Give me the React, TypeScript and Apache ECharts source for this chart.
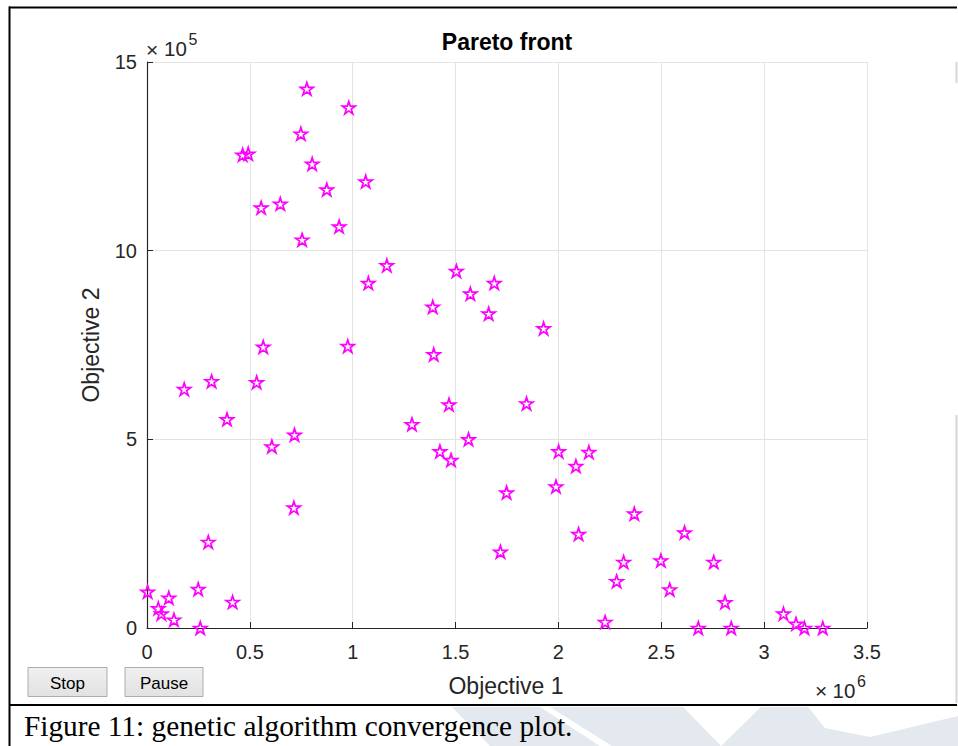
import React, { useEffect, useRef } from "react";
import * as echarts from "echarts";

// Objective 1 values (×10^6)
const objective1 = [
  0.777, 0.981, 0.748, 0.465, 0.492, 0.803, 1.063, 0.874, 0.648, 0.555,
  0.934, 0.754, 1.166, 1.076, 1.504, 1.572, 1.389, 1.688, 1.661, 1.928,
  0.565, 0.976, 1.394, 0.181, 0.314, 0.533, 0.389, 1.468, 1.288, 0.607,
  0.717, 1.563, 1.424, 1.478, 0.714, 0.298, 0.003, 0.106, 0.249, 0.416,
  0.055, 0.07, 0.131, 0.259, 1.845, 1.748, 1.718, 2.001, 2.148, 2.085,
  1.988, 2.369, 2.098, 2.613, 2.317, 2.498, 2.755, 2.283, 2.541, 2.81,
  2.227, 2.68, 2.84, 3.094, 3.155, 3.196, 3.285,
];
// Objective 2 values (×10^5)
const objective2 = [
  14.29, 13.79, 13.1, 12.54, 12.57, 12.3, 11.83, 11.62, 11.24, 11.14,
  10.64, 10.29, 9.61, 9.14, 9.46, 8.86, 8.51, 9.14, 8.33, 7.94,
  7.45, 7.47, 7.25, 6.33, 6.54, 6.51, 5.53, 5.92, 5.4, 4.81,
  5.12, 5.0, 4.68, 4.45, 3.19, 2.28, 0.96, 0.8, 1.03, 0.69,
  0.52, 0.38, 0.22, 0.0, 5.95, 3.59, 2.02, 4.68, 4.66, 4.29,
  3.75, 3.03, 2.49, 2.53, 1.75, 1.79, 1.75, 1.24, 1.02, 0.68,
  0.16, 0.0, 0.0, 0.38, 0.11, 0.0, 0.0,
];

const xRange = { min: 0, max: 3.5, interval: 0.5 };
const yRange = { min: 0, max: 15, interval: 5 };

const titleText = "Pareto front";
const xName = "Objective 1";
const yName = "Objective 2";
const caption = "Figure 11: genetic algorithm convergence plot.";

const STAR =
  "path://M0,-10 L2.245,-3.09 L9.511,-3.09 L3.633,1.18 L5.878,8.09 L0,3.82 L-5.878,8.09 L-3.633,1.18 L-9.511,-3.09 L-2.245,-3.09 Z";

const SANS = "Liberation Sans, Arial, Helvetica, sans-serif";
const SERIF = "Liberation Serif, Times New Roman, serif";
const AX = "#262626";

export default function App() {
  const ref = useRef<HTMLDivElement>(null);
  useEffect(() => {
    if (!ref.current) return;
    const chart = echarts.init(ref.current, undefined, { renderer: "svg" });
    const points = objective1.map((x, i) => [x, objective2[i]]);
    const button = (x: number, w: number, label: string) => ({
      type: "group",
      children: [
        {
          type: "rect",
          shape: { x, y: 667.5, width: w, height: 29 },
          style: {
            fill: new echarts.graphic.LinearGradient(0, 0, 0, 1, [
              { offset: 0, color: "#f0f0f0" },
              { offset: 1, color: "#e2e2e2" },
            ]),
            stroke: "#adadad",
            lineWidth: 1,
          },
        },
        {
          type: "text",
          x: x + w / 2,
          y: 683,
          style: {
            text: label,
            fontFamily: SANS,
            fontSize: 17,
            fill: "#000",
            align: "center",
            verticalAlign: "middle",
          },
        },
      ],
    });
    const txt = (x: number, y: number, s: string, size: number) => ({
      type: "text",
      x,
      y,
      style: { text: s, fontFamily: SANS, fontSize: size, fill: AX, align: "left", verticalAlign: "middle" },
    });
    chart.setOption({
      animation: false,
      backgroundColor: "#fff",
      grid: { left: 147, right: 91, top: 62, bottom: 118, containLabel: false },
      xAxis: {
        type: "value",
        ...xRange,
        axisLine: { show: true, onZero: false, lineStyle: { color: AX, width: 1.2 } },
        axisTick: { show: true, inside: true, length: 6, lineStyle: { color: AX } },
        axisLabel: { fontSize: 20, color: AX, margin: 14, fontFamily: SANS },
        splitLine: { show: true, lineStyle: { color: "#e3e3e3", width: 1 } },
      },
      yAxis: {
        type: "value",
        ...yRange,
        axisLine: { show: true, onZero: false, lineStyle: { color: AX, width: 1.2 } },
        axisTick: { show: true, inside: true, length: 6, lineStyle: { color: AX } },
        axisLabel: { fontSize: 20, color: AX, margin: 10, fontFamily: SANS },
        splitLine: { show: true, lineStyle: { color: "#e3e3e3", width: 1 } },
      },
      series: [
        {
          type: "scatter",
          data: points,
          symbol: STAR,
          symbolSize: [13, 12.5],
          clip: false,
          itemStyle: { color: "rgba(0,0,0,0)", borderColor: "#ff00ff", borderWidth: 1.7, opacity: 1 },
          z: 5,
        },
      ],
      graphic: [
        // watermark shapes in caption strip
        {
          type: "polygon",
          z: 0,
          shape: { points: [[452, 707], [540, 707], [600, 746], [490, 746]] },
          style: { fill: "#e3e9ee" },
        },
        {
          type: "polygon",
          z: 0,
          shape: { points: [[550, 707], [683, 707], [721, 746], [612, 746]] },
          style: { fill: "#e3e9ee" },
        },
        {
          type: "polygon",
          z: 0,
          shape: {
            points: [[761, 707], [808, 707], [825, 728], [870, 737], [958, 716], [958, 746], [721, 746]],
          },
          style: { fill: "#e3e9ee" },
        },
        // frame lines
        { type: "line", z: 10, shape: { x1: 9, y1: 7.5, x2: 957, y2: 7.5 }, style: { stroke: "#000", lineWidth: 2 } },
        { type: "line", z: 10, shape: { x1: 9.5, y1: 6.5, x2: 9.5, y2: 746 }, style: { stroke: "#000", lineWidth: 2 } },
        { type: "line", z: 10, shape: { x1: 9, y1: 705, x2: 957, y2: 705 }, style: { stroke: "#000", lineWidth: 2 } },
        // right gray bars
        { type: "line", z: 10, shape: { x1: 956.5, y1: 62, x2: 956.5, y2: 83 }, style: { stroke: "#d6d6d6", lineWidth: 2 } },
        { type: "line", z: 10, shape: { x1: 956.5, y1: 415, x2: 956.5, y2: 703 }, style: { stroke: "#d6d6d6", lineWidth: 2 } },
        // title
        {
          type: "text",
          x: 507,
          y: 42,
          style: {
            text: titleText,
            fontFamily: SANS,
            fontWeight: "bold",
            fontSize: 23,
            fill: "#000",
            align: "center",
            verticalAlign: "middle",
          },
        },
        // x axis name
        {
          type: "text",
          x: 506,
          y: 686,
          style: {
            text: xName,
            fontFamily: SANS,
            fontSize: 23,
            fill: AX,
            align: "center",
            verticalAlign: "middle",
          },
        },
        // y axis name
        {
          type: "text",
          x: 91,
          y: 345,
          rotation: Math.PI / 2,
          style: {
            text: yName,
            fontFamily: SANS,
            fontSize: 23,
            fill: AX,
            align: "center",
            verticalAlign: "middle",
          },
        },
        // ×10^5
        txt(146, 49, "×", 21),
        txt(164, 48.5, "10", 20.5),
        txt(188.5, 39, "5", 16),
        // ×10^6
        txt(815, 690.5, "×", 21),
        txt(832.5, 690, "10", 20.5),
        txt(857, 681, "6", 16),
        button(28, 79, "Stop"),
        button(125, 78, "Pause"),
        // caption
        {
          type: "text",
          z: 5,
          x: 24,
          y: 726,
          style: {
            text: caption,
            fontFamily: SERIF,
            fontSize: 29.3,
            fill: "#000",
            align: "left",
            verticalAlign: "middle",
          },
        },
      ],
    });
    return () => chart.dispose();
  }, []);
  return (
    <div
      ref={ref}
      style={{ position: "fixed", left: 0, top: 0, width: 958, height: 746, background: "#fff" }}
    />
  );
}
